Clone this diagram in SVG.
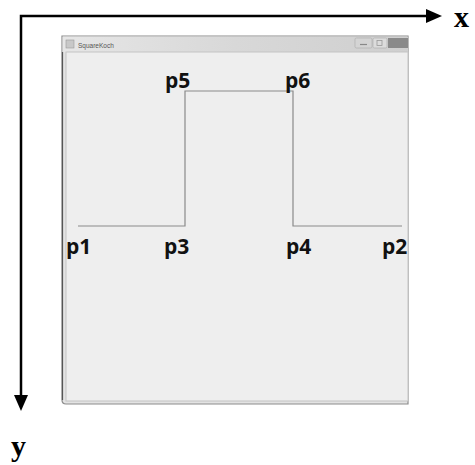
<svg xmlns="http://www.w3.org/2000/svg" width="475" height="465" viewBox="0 0 475 465">
<defs>
<linearGradient id="tb" x1="0" y1="0" x2="1" y2="0">
<stop offset="0" stop-color="#e6e6e6"/><stop offset="0.5" stop-color="#d8d8d8"/><stop offset="1" stop-color="#cfcfcf"/>
</linearGradient>
</defs>
<style>
.lbl{font-family:"Open Sans","Noto Sans","Liberation Sans",sans-serif;font-weight:bold;font-size:21px;fill:#111}
.ax{font-family:"Liberation Serif",serif;font-weight:bold;font-size:30px;fill:#000}
.axis{stroke:#000;stroke-width:2.5;fill:none}
.koch{stroke:#8a8a8a;stroke-width:1.2;fill:none}
</style>
<g id="window">
<path d="M62,36 H408 V404 H66 Q62,404 62,400 Z" fill="#e3e3e3" stroke="#8c8c8c" stroke-width="1.2"/>
<rect x="62.6" y="36.6" width="345.4" height="15.4" fill="url(#tb)"/>
<rect x="66" y="52" width="342" height="349" fill="#eeeeee" stroke="#c4c4c4" stroke-width="1"/>
<line x1="62.5" y1="52" x2="62.5" y2="400" stroke="#555" stroke-width="1.2"/>
<rect x="66" y="40" width="8" height="8" fill="#c8c8c8" stroke="#999" stroke-width="0.6"/>
<text x="78" y="47.5" font-family="Liberation Sans,sans-serif" font-size="6.5" fill="#555">SquareKoch</text>
<rect x="355" y="38" width="17" height="10" rx="1.5" fill="#d4d4d4" stroke="#aaa" stroke-width="0.6"/>
<line x1="360" y1="44.5" x2="367" y2="44.5" stroke="#888" stroke-width="1.2"/>
<rect x="373" y="38" width="14" height="10" rx="1.5" fill="#dcdcdc" stroke="#aaa" stroke-width="0.6"/>
<rect x="377" y="40.5" width="5" height="5" fill="none" stroke="#999" stroke-width="0.8"/>
<rect x="388" y="38" width="20" height="10" fill="#8a8a8a"/>
</g>
<g id="curve">
<polyline class="koch" points="78,226 185,226 185,91 293,91 293,226 402,226"/>
</g>
<g id="labels">
<text class="lbl" x="66" y="254">p1</text>
<text class="lbl" x="164" y="254">p3</text>
<text class="lbl" x="286" y="254">p4</text>
<text class="lbl" x="382" y="254">p2</text>
<text class="lbl" x="165" y="88">p5</text>
<text class="lbl" x="285" y="88">p6</text>
</g>
<g id="axes">
<polyline class="axis" points="427,16 21,16 21,396"/>
<polygon points="426,9 442,16 426,23" fill="#000"/>
<polygon points="14,395 21,411 28,395" fill="#000"/>
<text class="ax" x="454" y="27">x</text>
<text class="ax" x="11" y="456">y</text>
</g>
</svg>
